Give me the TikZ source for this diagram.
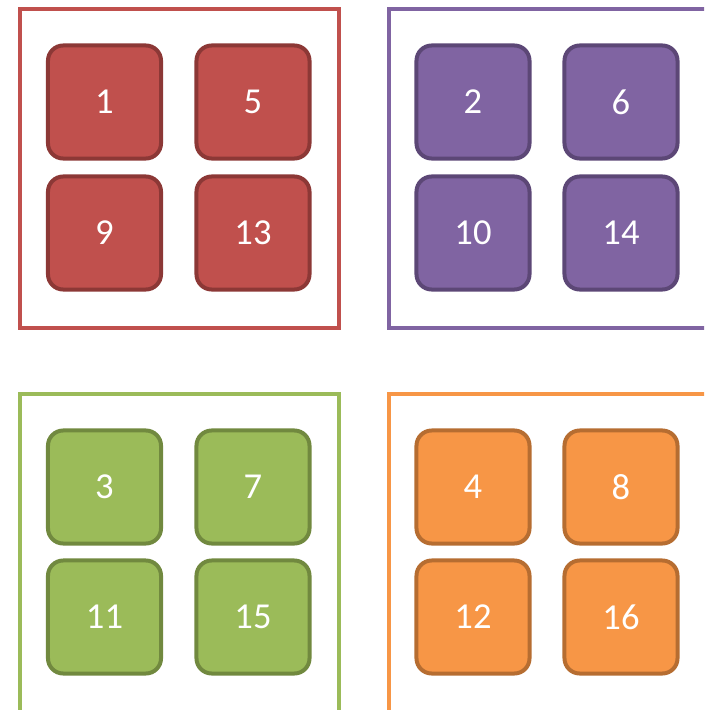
\documentclass[tikz,border=0pt]{standalone}
\usepackage{fontspec}
\setmainfont{Carlito}
\usetikzlibrary{positioning}
\definecolor{TileRed}{RGB}{192,80,77}
\definecolor{EdgeRed}{RGB}{140,56,54}
\definecolor{TilePurple}{RGB}{128,100,162}
\definecolor{EdgePurple}{RGB}{92,71,118}
\definecolor{TileGreen}{RGB}{155,187,89}
\definecolor{EdgeGreen}{RGB}{113,137,63}
\definecolor{TileOrange}{RGB}{247,150,70}
\definecolor{EdgeOrange}{RGB}{182,109,49}

\begin{document}
\begin{tikzpicture}[
    x=0.025cm, y=-0.025cm,
    tile/.style={rounded corners=0.38cm, line width=0.1cm, minimum width=2.825cm, minimum height=2.825cm, inner sep=0pt, text=white, font=\fontsize{26}{30}\selectfont},
    redtile/.style={tile, draw=EdgeRed, fill=TileRed},
    purpletile/.style={tile, draw=EdgePurple, fill=TilePurple},
    greentile/.style={tile, draw=EdgeGreen, fill=TileGreen},
    orangetile/.style={tile, draw=EdgeOrange, fill=TileOrange},
    frame/.style={line width=0.11cm}
  ]
    \clip (0,0) rectangle (704,710);

    % group frames
    \draw[frame, draw=TileRed] (20,9) rectangle (339,328);
    \draw[frame, draw=TilePurple] (389,9) rectangle (730,328);
    \draw[frame, draw=TileGreen] (20,394) rectangle (339,740);
    \draw[frame, draw=TileOrange] (389,394) rectangle (730,740);

    \node[redtile] (t1) at (104.5,102) {1};
    \node[redtile] (t5) at (253,102) {5};
    \node[redtile] (t9) at (104.5,233) {9};
    \node[redtile] (t13) at (253,233) {13};

    \node[purpletile] (t2) at (473,102) {2};
    \node[purpletile] (t6) at (621,102) {6};
    \node[purpletile] (t10) at (473,233) {10};
    \node[purpletile] (t14) at (621,233) {14};

    \node[greentile] (t3) at (104.5,487) {3};
    \node[greentile] (t7) at (253,487) {7};
    \node[greentile] (t11) at (104.5,617) {11};
    \node[greentile] (t15) at (253,617) {15};

    \node[orangetile] (t4) at (473,487) {4};
    \node[orangetile] (t8) at (621,487) {8};
    \node[orangetile] (t12) at (473,617) {12};
    \node[orangetile] (t16) at (621,617) {16};
  \end{tikzpicture}
\end{document}
